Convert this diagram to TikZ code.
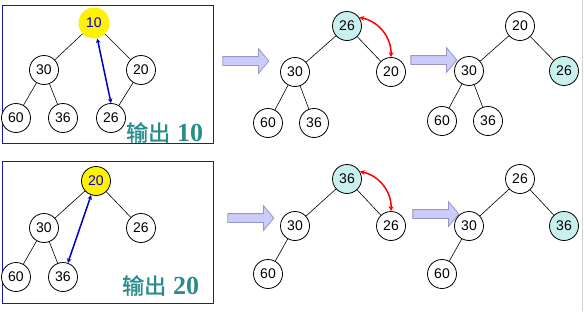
\documentclass[tikz,border=0pt]{standalone}
\usepackage{fontspec}
\setmainfont{Liberation Sans}
\newfontfamily\numserif{Liberation Serif}
\newfontfamily\cjk[FakeBold=1.5]{Noto Sans CJK SC}
\usepackage{tikz}
\usetikzlibrary{shapes.arrows, arrows.meta, positioning}

\definecolor{marco}{RGB}{20,30,160}
\definecolor{salida}{RGB}{41,140,140}
\definecolor{cian}{RGB}{200,240,238}
\definecolor{flecha}{RGB}{204,204,250}
\definecolor{flechaborde}{RGB}{150,150,200}

\tikzset{
  heapnode/.style={circle, draw, thick, fill=white, minimum size=29pt, inner sep=0pt, font=\fontsize{14}{14}\selectfont},
  topnode/.style={heapnode, fill=yellow, text=blue!80!black},
  movednode/.style={heapnode, fill=cian},
  edge/.style={draw, semithick},
  swapblue/.style={<->, >={Stealth[length=4.5pt,width=4.5pt]}, line width=1.5pt, blue!75!black},
  swapred/.style={<->, >={Stealth[length=5pt,width=5pt]}, line width=1.5pt, red},
  stepfwd/.style={single arrow, draw=flechaborde, fill=flecha, thick, minimum height=46pt, inner sep=4pt, single arrow head extend=8pt, single arrow tip angle=100},
  outlabel/.style={text=salida, anchor=base west, inner sep=0pt}
}

\begin{document}
\begin{tikzpicture}[x=1pt, y=-1pt]
\useasboundingbox (0,0) rectangle (584,311);

% Marcos
\draw[marco, thick] (2,5) rectangle (213,143);
\draw[marco, thick] (2,161) rectangle (213,303);
\draw[gray!35] (582,0) -- (582,311);

% Fila 1, salida del 10
\node[topnode, draw=none, minimum size=31pt] (a10) at (94,23) {10};
\node[heapnode] (a30) at (44,70) {30};
\node[heapnode] (a20) at (141,70) {20};
\node[heapnode] (a60) at (16,118) {60};
\node[heapnode] (a36) at (63,118) {36};
\node[heapnode] (a26) at (111,118) {26};
\path[edge] (a10) -- (a30) (a10) -- (a20) (a30) -- (a60) (a30) -- (a36) (a20) -- (a26);
\draw[swapblue] (a10.-78) -- (a26.north);
\node[outlabel] (out1) at (126,141) {{\cjk\fontsize{22}{22}\selectfont 输出}\hspace{7pt}{\numserif\bfseries\fontsize{26}{26}\selectfont 10}};

\node[stepfwd] (s1) at (244,61) {};

\node[movednode] (b26) at (347,26) {26};
\node[heapnode] (b30) at (295,72) {30};
\node[heapnode] (b20) at (391,72) {20};
\node[heapnode] (b60) at (268,123) {60};
\node[heapnode] (b36) at (314,123) {36};
\path[edge] (b26) -- (b30) (b26) -- (b20) (b30) -- (b60) (b30) -- (b36);
\draw[swapred] (b26.35) to[bend left=40] (b20.north);

\node[stepfwd] (s2) at (432,60) {};

\node[heapnode] (c20) at (520,26) {20};
\node[heapnode] (c30) at (469,71) {30};
\node[movednode] (c26) at (564,71) {26};
\node[heapnode] (c60) at (442,121) {60};
\node[heapnode] (c36) at (488,121) {36};
\path[edge] (c20) -- (c30) (c20) -- (c26) (c30) -- (c60) (c30) -- (c36);

% Fila 2, salida del 20
\node[topnode] (d20) at (96,181) {20};
\node[heapnode] (d30) at (44,228) {30};
\node[heapnode] (d26) at (141,228) {26};
\node[heapnode] (d60) at (16,277) {60};
\node[heapnode] (d36) at (63,277) {36};
\path[edge] (d20) -- (d30) (d20) -- (d26) (d30) -- (d60) (d30) -- (d36);
\draw[swapblue] (d36) -- (d20);
\node[outlabel] (out2) at (122,294) {{\cjk\fontsize{22}{22}\selectfont 输出}\hspace{7pt}{\numserif\bfseries\fontsize{26}{26}\selectfont 20}};

\node[stepfwd] (s3) at (249,218) {};

\node[movednode] (e36) at (347,179) {36};
\node[heapnode] (e30) at (295,226) {30};
\node[heapnode] (e26) at (391,226) {26};
\node[heapnode] (e60) at (268,274) {60};
\path[edge] (e36) -- (e30) (e36) -- (e26) (e30) -- (e60);
\draw[swapred] (e36.30) to[bend left=40] (e26.north);

\node[stepfwd] (s4) at (434,214) {};

\node[heapnode] (f26) at (520,179) {26};
\node[heapnode] (f30) at (469,226) {30};
\node[movednode] (f36) at (564,226) {36};
\node[heapnode] (f60) at (442,274) {60};
\path[edge] (f26) -- (f30) (f26) -- (f36) (f30) -- (f60);

\end{tikzpicture}
\end{document}
